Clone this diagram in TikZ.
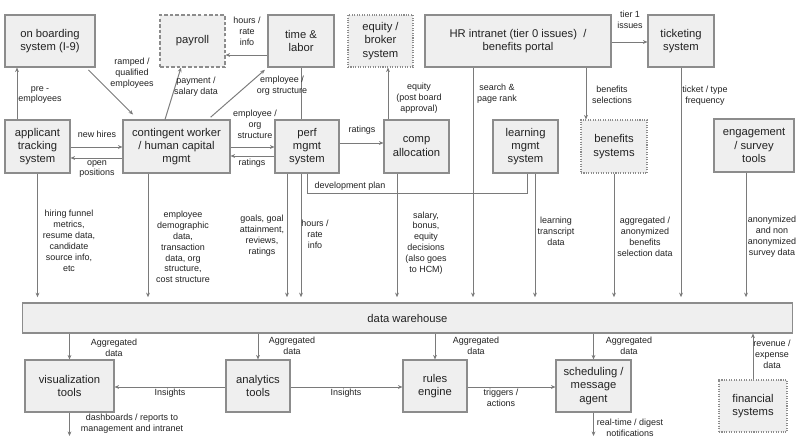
\documentclass[tikz,border=0pt]{standalone}
\usepackage{fontspec}
\setmainfont{Liberation Sans}
\usetikzlibrary{arrows.meta,positioning,backgrounds}

\definecolor{boxfill}{HTML}{EFEFEF}
\definecolor{boxline}{HTML}{8C8C8C}
\definecolor{wire}{HTML}{7A7A7A}
\definecolor{ink}{HTML}{222222}

\tikzset{
  sysbox/.style={draw=boxline,fill=boxfill,line width=0.6pt,align=center,inner sep=0pt,
    text=ink,font=\fontsize{6.4}{7.6}\selectfont,minimum height=1.04cm},
  dashbox/.style={sysbox,dash pattern=on 2pt off 1.2pt},
  dotbox/.style={sysbox,dash pattern=on 0.6pt off 0.8pt},
  lbl/.style={align=center,inner sep=0pt,text=ink,font=\fontsize{5.1}{6.2}\selectfont},
  arr/.style={draw=wire,line width=0.55pt,-{Stealth[length=2.6pt,width=2.2pt]}},
  todw/.style={arr,shorten >=3pt},
  ln/.style={draw=wire,line width=0.55pt}
}

\begin{document}
\begin{tikzpicture}[x=0.02cm,y=-0.02cm]
  \useasboundingbox (0,0) rectangle (800,442);
  % source systems, top row
  \node[sysbox,minimum width=1.8cm] (onb) at (50,41) {on boarding\\system (I-9)};
  \node[dashbox,minimum width=1.3cm] (pay) at (192.5,41) {payroll};
  \node[sysbox,minimum width=1.32cm] (tl) at (301,41) {time \&\\labor};
  \node[dotbox,minimum width=1.3cm] (eqb) at (380.5,41) {equity /\\broker\\system};
  \node[sysbox,minimum width=3.72cm] (hri) at (518,41) {HR intranet (tier 0 issues)\ \ /\\benefits portal};
  \node[sysbox,minimum width=1.32cm] (tick) at (681,41) {ticketing\\system};
  % source systems, middle row
  \node[sysbox,minimum width=1.3cm,minimum height=1.06cm] (ats) at (37.5,146.5) {applicant\\tracking\\system};
  \node[sysbox,minimum width=2.14cm,minimum height=1.06cm] (cw) at (176.5,146.5) {contingent worker\\/ human capital\\mgmt};
  \node[sysbox,minimum width=1.28cm,minimum height=1.06cm] (perf) at (307,146.5) {perf\\mgmt\\system};
  \node[sysbox,minimum width=1.3cm,minimum height=1.06cm] (comp) at (416.5,146.5) {comp\\allocation};
  \node[sysbox,minimum width=1.3cm,minimum height=1.06cm] (lms) at (525.5,146.5) {learning\\mgmt\\system};
  \node[dotbox,minimum width=1.32cm,minimum height=1.06cm] (ben) at (614,146.5) {benefits\\systems};
  \node[sysbox,minimum width=1.6cm,minimum height=1.06cm] (eng) at (754,145.5) {engagement\\/ survey\\tools};
  % warehouse
  \node[sysbox,minimum width=15.42cm,minimum height=0.6cm] (dw) at (407.5,318) {data warehouse};
  % consumers, bottom row
  \node[sysbox,minimum width=1.78cm] (vis) at (69.5,386) {visualization\\tools};
  \node[sysbox,minimum width=1.28cm] (ana) at (258,386) {analytics\\tools};
  \node[sysbox,minimum width=1.28cm] (rul) at (435,386) {rules\\engine};
  \node[sysbox,minimum width=1.5cm] (sch) at (593.5,386) {scheduling /\\message\\agent};
  \node[dotbox,minimum width=1.36cm] (fin) at (753,406) {financial\\systems};
  \coordinate (visout) at (69.5,436);
  \coordinate (schout) at (593.5,436);

  % links between source systems
  \draw[arr] (ats.north -| 17,0) -- (onb.south -| 17,0);
  \draw[arr,shorten <=2pt,shorten >=4pt] (onb.south -| 86,0) -- (cw.north -| 138,0);
  \draw[arr] (cw.north -| 165,0) -- (pay.south -| 181,0);
  \draw[arr,shorten <=2pt,shorten >=2pt] (cw.north -| 208,0) -- (tl.south west);
  \draw[arr] (tl.west |- 0,55) -- (pay.east |- 0,55);
  \draw[arr] (ats.east |- 0,147) -- (cw.west |- 0,147);
  \draw[arr] (cw.west |- 0,158) -- (ats.east |- 0,158);
  \draw[arr] (cw.east |- 0,147) -- (perf.west |- 0,147);
  \draw[arr] (perf.west |- 0,156) -- (cw.east |- 0,156);
  \draw[arr] (perf.east |- 0,143) -- (comp.west |- 0,143);
  \draw[arr] (comp.north -| 388,0) -- (eqb.south -| 388,0);
  \draw[arr] (hri.east |- 0,42) -- (tick.west |- 0,42);
  \draw[arr] (hri.south -| 586,0) -- (ben.north -| 586,0);
  \draw[ln] (perf.south) -- ++(0,20) -| (lms.south -| 527,0);

  % feeds into the warehouse
  \begin{pgfonlayer}{background}
    \draw[todw] (tl.south) -- (tl.south |- dw.north);
  \end{pgfonlayer}
  \draw[todw] (ats.south) -- (ats.south |- dw.north);
  \draw[todw] (cw.south -| 148,0) -- (dw.north -| 148,0);
  \draw[todw] (perf.south -| 287,0) -- (dw.north -| 287,0);
  \draw[todw] (comp.south -| 397,0) -- (dw.north -| 397,0);
  \draw[todw] (hri.south -| 473,0) -- (dw.north -| 473,0);
  \draw[todw] (lms.south -| 535,0) -- (dw.north -| 535,0);
  \draw[todw] (ben.south) -- (ben.south |- dw.north);
  \draw[todw] (tick.south) -- (tick.south |- dw.north);
  \draw[todw] (eng.south -| 746,0) -- (dw.north -| 746,0);
  \draw[arr] (fin.north) -- (fin.north |- dw.south);

  % out of the warehouse
  \draw[arr] (dw.south -| vis.north) -- (vis.north);
  \draw[arr] (dw.south -| ana.north) -- (ana.north);
  \draw[arr] (dw.south -| rul.north) -- (rul.north);
  \draw[arr] (dw.south -| sch.north) -- (sch.north);
  \draw[arr] (ana.west |- 0,387) -- (vis.east |- 0,387);
  \draw[arr] (ana.east |- 0,387) -- (rul.west |- 0,387);
  \draw[arr] (rul.east |- 0,387) -- (sch.west |- 0,387);
  \draw[arr] (vis.south) -- (visout);
  \draw[arr] (sch.south) -- (schout);

  % labels
  \node[lbl] (lpre) at (40,95) {pre -\\employees};
  \node[lbl] (lramp) at (132,73) {ramped /\\qualified\\employees};
  \node[lbl] (lpay) at (196,87) {payment /\\salary data};
  \node[lbl] (lorg) at (282,86) {employee /\\org structure};
  \node[lbl] (lhrs) at (247,31) {hours /\\rate\\info};
  \node[lbl] (lnew) at (97,134) {new hires};
  \node[lbl] (lopen) at (97,169) {open\\positions};
  \node[lbl] (lemp) at (255,124) {employee /\\org\\structure};
  \node[lbl] (lrat) at (252,163) {ratings};
  \node[lbl] (lrat2) at (362,130) {ratings};
  \node[lbl] (leq) at (419,98) {equity\\(post board\\approval)};
  \node[lbl] (ltier) at (630,20) {tier 1\\issues};
  \node[lbl] (lbsel) at (612,95) {benefits\\selections};
  \node[lbl] (lsrch) at (497,94) {search \&\\page rank};
  \node[lbl] (ltkt) at (705,96) {ticket / type\\frequency};
  \node[lbl] (ldev) at (350,186) {development plan};
  \node[lbl] (lhire) at (69,241) {hiring funnel\\metrics,\\resume data,\\candidate\\source info,\\etc};
  \node[lbl] (ldemo) at (183,247) {employee\\demographic\\data,\\transaction\\data, org\\structure,\\cost structure};
  \node[lbl] (lgoal) at (262,236) {goals, goal\\attainment,\\reviews,\\ratings};
  \node[lbl] (lhrs2) at (315,234) {hours /\\rate\\info};
  \node[lbl] (lsal) at (426,243) {salary,\\bonus,\\equity\\decisions\\(also goes\\to HCM)};
  \node[lbl] (llrn) at (556,231) {learning\\transcript\\data};
  \node[lbl] (lagg) at (645,237) {aggregated /\\anonymized\\benefits\\selection data};
  \node[lbl] (lanon) at (772,237) {anonymized\\and non\\anonymized\\survey data};
  \node[lbl] (lad1) at (114,348) {Aggregated\\data};
  \node[lbl] (lad2) at (292,346) {Aggregated\\data};
  \node[lbl] (lad3) at (476,346) {Aggregated\\data};
  \node[lbl] (lad4) at (629,346) {Aggregated\\data};
  \node[lbl] (lrev) at (772,354) {revenue /\\expense\\data};
  \node[lbl] (lins1) at (170,393.5) {Insights};
  \node[lbl] (lins2) at (346,393.5) {Insights};
  \node[lbl] (ltrig) at (501,398) {triggers /\\actions};
  \node[lbl] (ldash) at (132,424) {dashboards / reports to\\management and intranet};
  \node[lbl] (lnote) at (630,428) {real-time / digest\\notifications};
\end{tikzpicture}
\end{document}
